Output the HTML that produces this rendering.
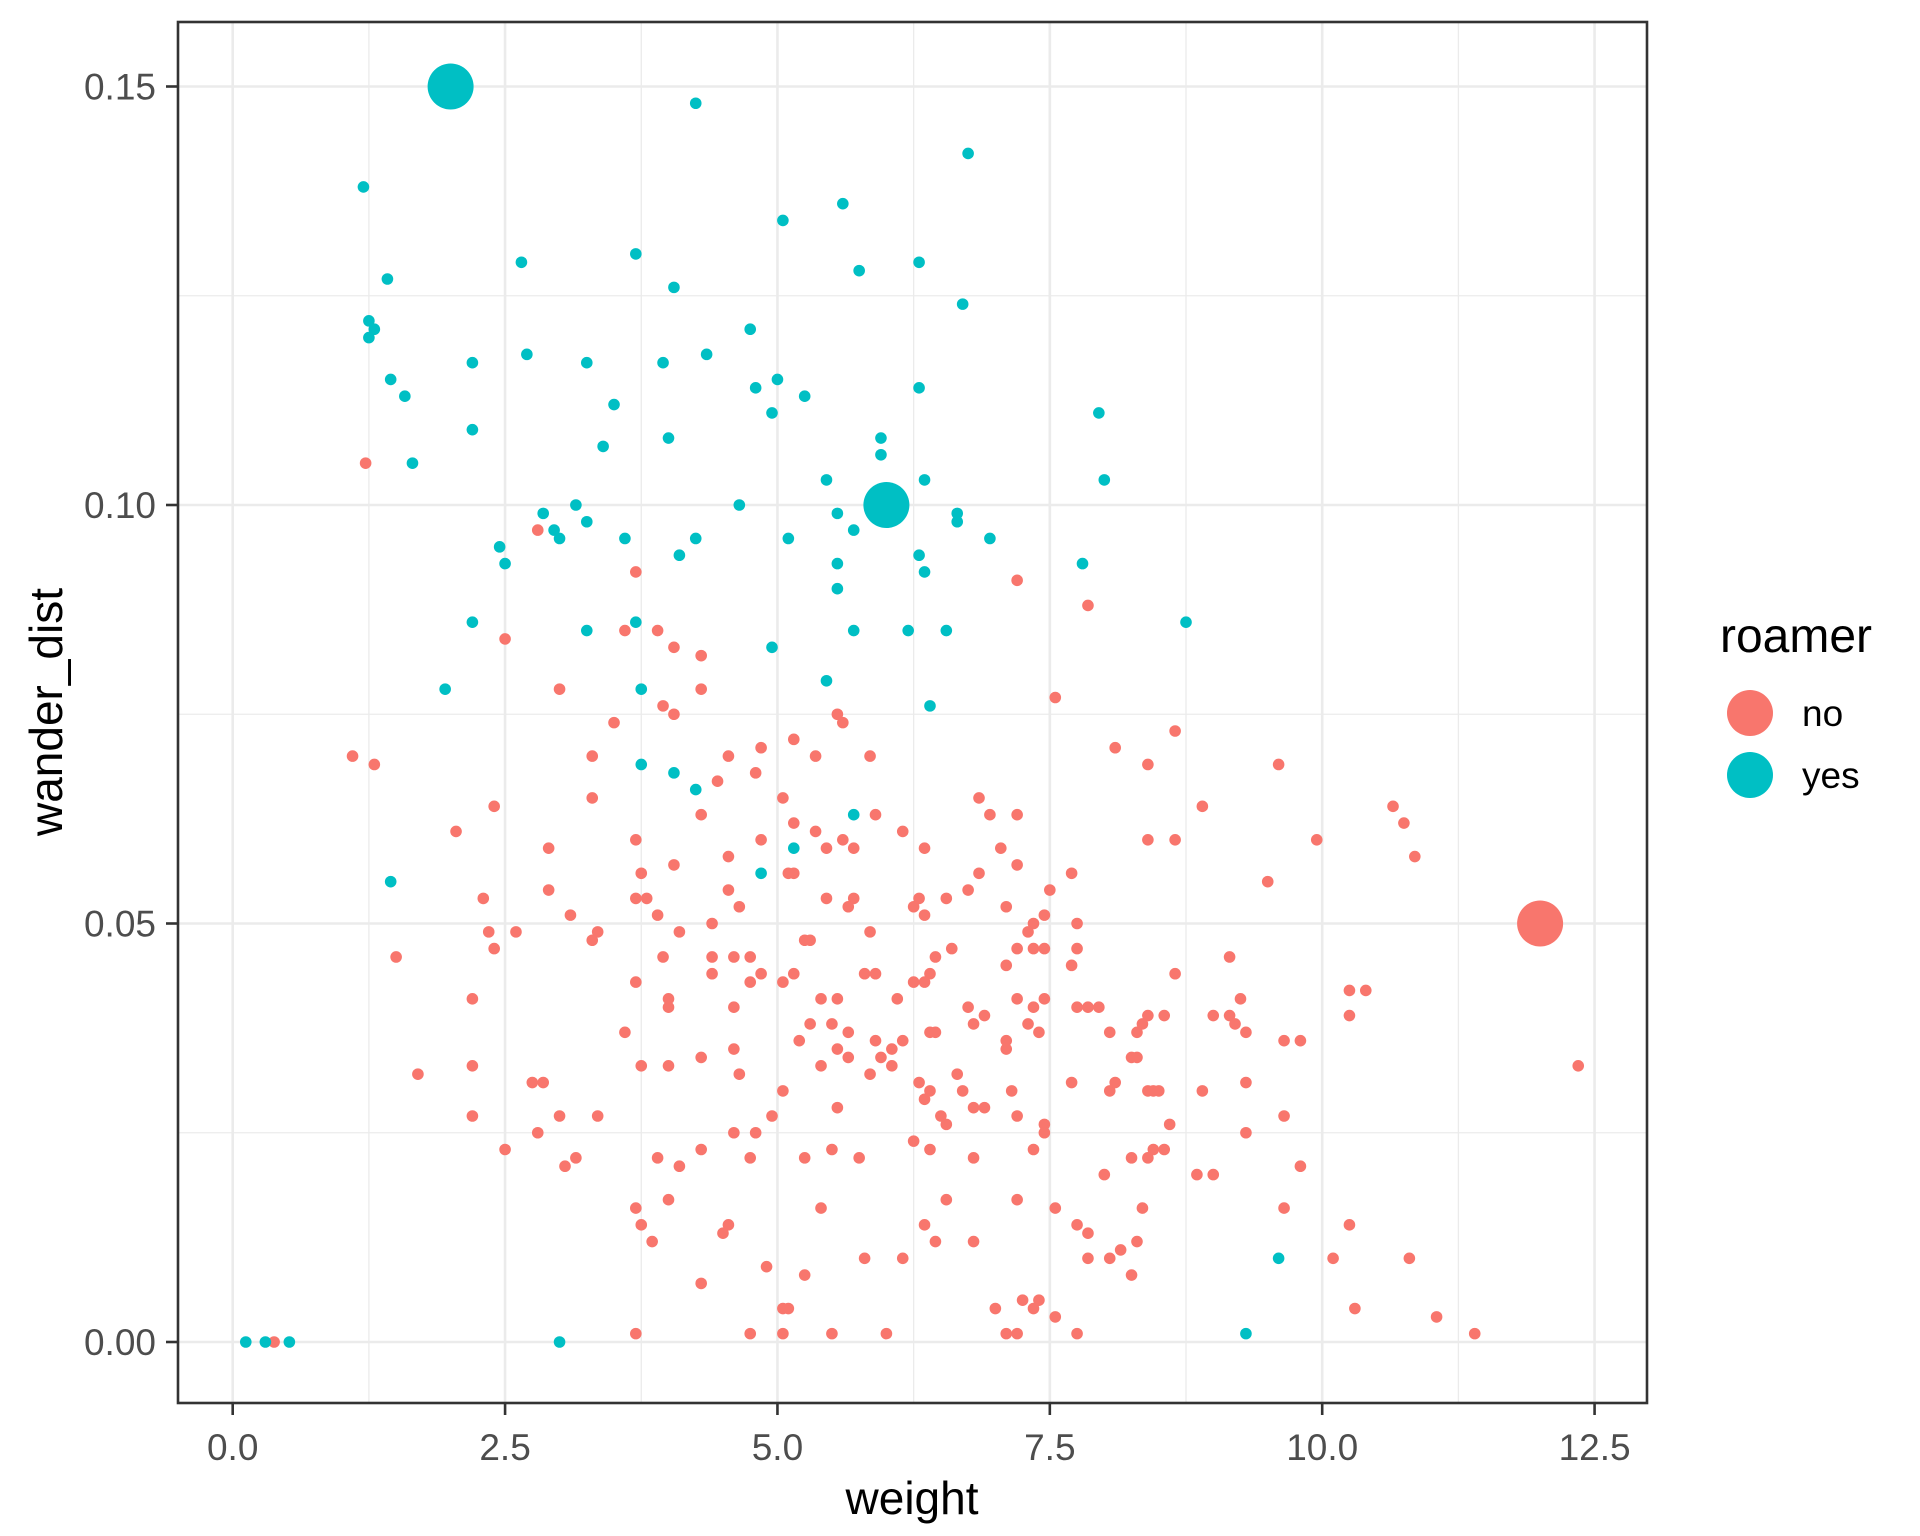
<!DOCTYPE html>
<html><head><meta charset="utf-8"><style>
html,body{margin:0;padding:0;background:#fff;}
svg{display:block;font-family:"Liberation Sans",Arial,sans-serif;}
</style></head><body>
<svg id="chart" width="1920" height="1536" viewBox="0 0 1920 1536">
<rect x="0" y="0" width="1920" height="1536" fill="#fff"/>
<g id="grid"></g>
<g id="points"></g>
<rect x="178" y="22" width="1469" height="1381" fill="none" stroke="#333" stroke-width="2.6"/>
<g id="axes"></g>
<text x="912" y="1514" font-size="46" text-anchor="middle" fill="#000">weight</text>
<text transform="translate(62,712) rotate(-90)" font-size="46" text-anchor="middle" fill="#000">wander_dist</text>
<g>
<text x="1720" y="652" font-size="48" fill="#000">roamer</text>
<g><circle cx="1750" cy="713" r="23" fill="#F8766D"/><text x="1802" y="726" font-size="37" fill="#000">no</text></g>
<g><circle cx="1750" cy="775" r="23" fill="#00BFC4"/><text x="1802" y="788" font-size="37" fill="#000">yes</text></g>
</g>
</svg>
<script>
const xTicks=[0,2.5,5,7.5,10,12.5];
const xTickLabels=["0.0","2.5","5.0","7.5","10.0","12.5"];
const yTicks=[0,0.05,0.10,0.15];
const yTickLabels=["0.00","0.05","0.10","0.15"];
const xMinor=[1.25,3.75,6.25,8.75,11.25];
const yMinor=[0.025,0.075,0.125];
// big points
const bigWeight=[2,6,12];
const bigDist=[0.15,0.10,0.05];
const bigRoamer=["yes","yes","no"];
// yes points
const yesWeight=[4.25,6.75,1.2,5.6,5.05,3.7,2.65,6.3,5.75,1.42,4.05,6.7,1.25,1.3,1.25,4.75,2.7,4.35,2.2,3.25,3.95,1.45,5.0,4.8,6.3,1.58,5.25,3.5,4.95,7.95,2.2,5.95,4.0,3.4,5.95,1.65,5.45,6.35,8.0,4.65,3.15,2.85,5.55,6.65,3.25,6.65,2.95,5.7,3.0,3.6,4.25,5.1,6.95,2.45,4.1,6.3,2.5,5.55,7.8,6.35,5.55,3.7,2.2,8.75,3.25,5.7,6.2,6.55,4.95,5.45,1.95,3.75,6.4,3.75,4.05,4.25,5.7,1.45,5.15,4.85,9.6,9.3,0.12,0.3,0.52,3.0];
const yesDist=[0.148,0.142,0.138,0.136,0.134,0.130,0.129,0.129,0.128,0.127,0.126,0.124,0.122,0.121,0.120,0.121,0.118,0.118,0.117,0.117,0.117,0.115,0.115,0.114,0.114,0.113,0.113,0.112,0.111,0.111,0.109,0.108,0.108,0.107,0.106,0.105,0.103,0.103,0.103,0.100,0.100,0.099,0.099,0.099,0.098,0.098,0.097,0.097,0.096,0.096,0.096,0.096,0.096,0.095,0.094,0.094,0.093,0.093,0.093,0.092,0.090,0.086,0.086,0.086,0.085,0.085,0.085,0.085,0.083,0.079,0.078,0.078,0.076,0.069,0.068,0.066,0.063,0.055,0.059,0.056,0.010,0.001,0,0,0,0];
// no points
const noWeight=[1.22,2.8,3.7,7.2,7.85,3.6,3.9,2.5,4.05,4.3,3.0,4.3,7.55,3.95,4.05,3.5,5.55,5.6,8.65,5.15,4.85,8.1,1.1,3.3,4.55,5.35,5.85,1.3,8.4,9.6,4.8,4.45,5.05,3.3,6.85,2.4,8.9,10.65,4.3,5.9,6.95,7.2,5.15,5.35,10.75,2.05,6.15,5.6,3.7,4.85,8.4,8.65,9.95,2.9,5.45,5.7,6.35,7.05,10.85,4.05,4.55,7.2,3.75,5.15,5.1,6.85,7.7,9.5,2.9,4.55,6.75,7.5,2.3,3.7,3.8,5.45,5.7,6.3,6.55,5.65,6.25,4.65,7.1,3.1,3.9,6.35,7.45,4.4,5.25,5.3,2.35,2.6,3.35,4.1,5.85,7.35,7.75,3.3,7.3,2.4,6.6,7.2,7.35,7.45,7.75,1.5,3.95,4.4,4.6,4.75,6.45,9.15,7.1,7.7,4.4,4.85,5.15,5.8,5.9,6.4,6.25,8.65,3.7,4.75,5.05,6.35,2.2,4.0,5.4,5.55,6.1,7.2,7.45,9.25,10.25,10.4,4.0,4.6,6.75,6.9,7.35,7.75,7.85,7.95,8.4,8.55,9.0,9.15,10.25,5.3,6.8,7.3,8.35,9.2,5.5,3.6,5.65,6.4,6.45,7.4,8.05,8.3,6.15,9.3,5.2,5.55,5.9,7.1,9.65,9.8,4.6,6.05,7.1,5.65,5.95,4.3,8.25,8.3,2.2,3.75,4.0,5.4,6.05,12.35,1.7,4.65,5.85,6.65,6.3,2.75,2.85,7.7,8.05,8.1,9.3,6.7,7.15,5.05,6.4,8.4,8.5,8.9,8.45,6.35,6.9,5.55,2.2,3.0,3.35,4.95,6.5,6.8,7.2,7.45,6.55,8.6,9.3,9.65,2.8,4.6,4.8,7.45,6.25,6.4,2.5,4.3,5.5,7.35,8.45,3.05,3.15,3.9,4.1,4.75,5.25,5.75,6.8,8.25,8.4,8.55,8.0,8.85,9.0,9.8,4.0,3.7,5.4,6.55,7.2,7.55,8.35,9.65,4.55,4.5,3.75,6.35,7.75,7.85,10.25,3.85,6.45,6.8,8.3,5.8,6.15,7.85,8.05,8.15,10.1,10.8,4.9,5.25,8.25,4.3,5.05,5.1,7.0,7.25,7.35,7.4,10.3,7.55,11.05,3.7,4.75,5.05,5.5,6.0,7.1,7.2,7.75,11.4,0.38];
const noDist=[0.105,0.097,0.092,0.091,0.088,0.085,0.085,0.084,0.083,0.082,0.078,0.078,0.077,0.076,0.075,0.074,0.075,0.074,0.073,0.072,0.071,0.071,0.070,0.070,0.070,0.070,0.070,0.069,0.069,0.069,0.068,0.067,0.065,0.065,0.065,0.064,0.064,0.064,0.063,0.063,0.063,0.063,0.062,0.061,0.062,0.061,0.061,0.060,0.060,0.060,0.060,0.060,0.060,0.059,0.059,0.059,0.059,0.059,0.058,0.057,0.058,0.057,0.056,0.056,0.056,0.056,0.056,0.055,0.054,0.054,0.054,0.054,0.053,0.053,0.053,0.053,0.053,0.053,0.053,0.052,0.052,0.052,0.052,0.051,0.051,0.051,0.051,0.050,0.048,0.048,0.049,0.049,0.049,0.049,0.049,0.050,0.050,0.048,0.049,0.047,0.047,0.047,0.047,0.047,0.047,0.046,0.046,0.046,0.046,0.046,0.046,0.046,0.045,0.045,0.044,0.044,0.044,0.044,0.044,0.044,0.043,0.044,0.043,0.043,0.043,0.043,0.041,0.041,0.041,0.041,0.041,0.041,0.041,0.041,0.042,0.042,0.040,0.040,0.040,0.039,0.040,0.040,0.040,0.040,0.039,0.039,0.039,0.039,0.039,0.038,0.038,0.038,0.038,0.038,0.038,0.037,0.037,0.037,0.037,0.037,0.037,0.037,0.036,0.037,0.036,0.035,0.036,0.036,0.036,0.036,0.035,0.035,0.035,0.034,0.034,0.034,0.034,0.034,0.033,0.033,0.033,0.033,0.033,0.033,0.032,0.032,0.032,0.032,0.031,0.031,0.031,0.031,0.030,0.031,0.031,0.030,0.030,0.030,0.030,0.030,0.030,0.030,0.030,0.029,0.028,0.028,0.027,0.027,0.027,0.027,0.027,0.028,0.027,0.026,0.026,0.026,0.025,0.027,0.025,0.025,0.025,0.025,0.024,0.023,0.023,0.023,0.023,0.023,0.023,0.021,0.022,0.022,0.021,0.022,0.022,0.022,0.022,0.022,0.022,0.023,0.020,0.020,0.020,0.021,0.017,0.016,0.016,0.017,0.017,0.016,0.016,0.016,0.014,0.013,0.014,0.014,0.014,0.013,0.014,0.012,0.012,0.012,0.012,0.010,0.010,0.010,0.010,0.011,0.010,0.010,0.009,0.008,0.008,0.007,0.004,0.004,0.004,0.005,0.004,0.005,0.004,0.003,0.003,0.001,0.001,0.001,0.001,0.001,0.001,0.001,0.001,0.001,0.0];

const NS='http://www.w3.org/2000/svg';
const PL=178,PR=1647,PT=22,PB=1403;
function sx(v){return 232.7+108.95*v;}
function sy(v){return 1342-8370*v;}
function mk(tag,attrs,parent){const e=document.createElementNS(NS,tag);for(const k in attrs)e.setAttribute(k,attrs[k]);parent.appendChild(e);return e;}
const grid=document.getElementById('grid');
const axes=document.getElementById('axes');
const pts=document.getElementById('points');
mk('rect',{x:PL,y:PT,width:PR-PL,height:PB-PT,fill:'#fff'},grid);
xMinor.forEach(v=>{const l=mk('line',{x1:sx(v),x2:sx(v),y1:PT,y2:PB,stroke:'#EBEBEB','stroke-width':1.3},grid);

});
yMinor.forEach(v=>{const l=mk('line',{y1:sy(v),y2:sy(v),x1:PL,x2:PR,stroke:'#EBEBEB','stroke-width':1.3},grid);

});
xTicks.forEach((v,i)=>{
const l=mk('line',{x1:sx(v),x2:sx(v),y1:PT,y2:PB,stroke:'#EBEBEB','stroke-width':2.6},grid);


const t=mk('line',{x1:sx(v),x2:sx(v),y1:PB,y2:PB+12,stroke:'#333','stroke-width':2.6},axes);


const tx=mk('text',{x:sx(v),y:PB+57,'font-size':37,'text-anchor':'middle',fill:'#4D4D4D'},axes);
tx.textContent=xTickLabels[i];


});
yTicks.forEach((v,i)=>{
const l=mk('line',{y1:sy(v),y2:sy(v),x1:PL,x2:PR,stroke:'#EBEBEB','stroke-width':2.6},grid);


const t=mk('line',{y1:sy(v),y2:sy(v),x1:PL-12,x2:PL,stroke:'#333','stroke-width':2.6},axes);


const tx=mk('text',{x:PL-22,y:sy(v)+13,'font-size':37,'text-anchor':'end',fill:'#4D4D4D'},axes);
tx.textContent=yTickLabels[i];


});
const COL={no:'#F8766D',yes:'#00BFC4'};
noWeight.forEach((w,i)=>{const c=mk('circle',{cx:sx(w),cy:sy(noDist[i]),r:5.8,fill:COL.no},pts);

});
yesWeight.forEach((w,i)=>{const c=mk('circle',{cx:sx(w),cy:sy(yesDist[i]),r:5.8,fill:COL.yes},pts);

});
bigWeight.forEach((w,i)=>{const c=mk('circle',{cx:sx(w),cy:sy(bigDist[i]),r:23,fill:COL[bigRoamer[i]]},pts);

});
</script>
</body></html>
